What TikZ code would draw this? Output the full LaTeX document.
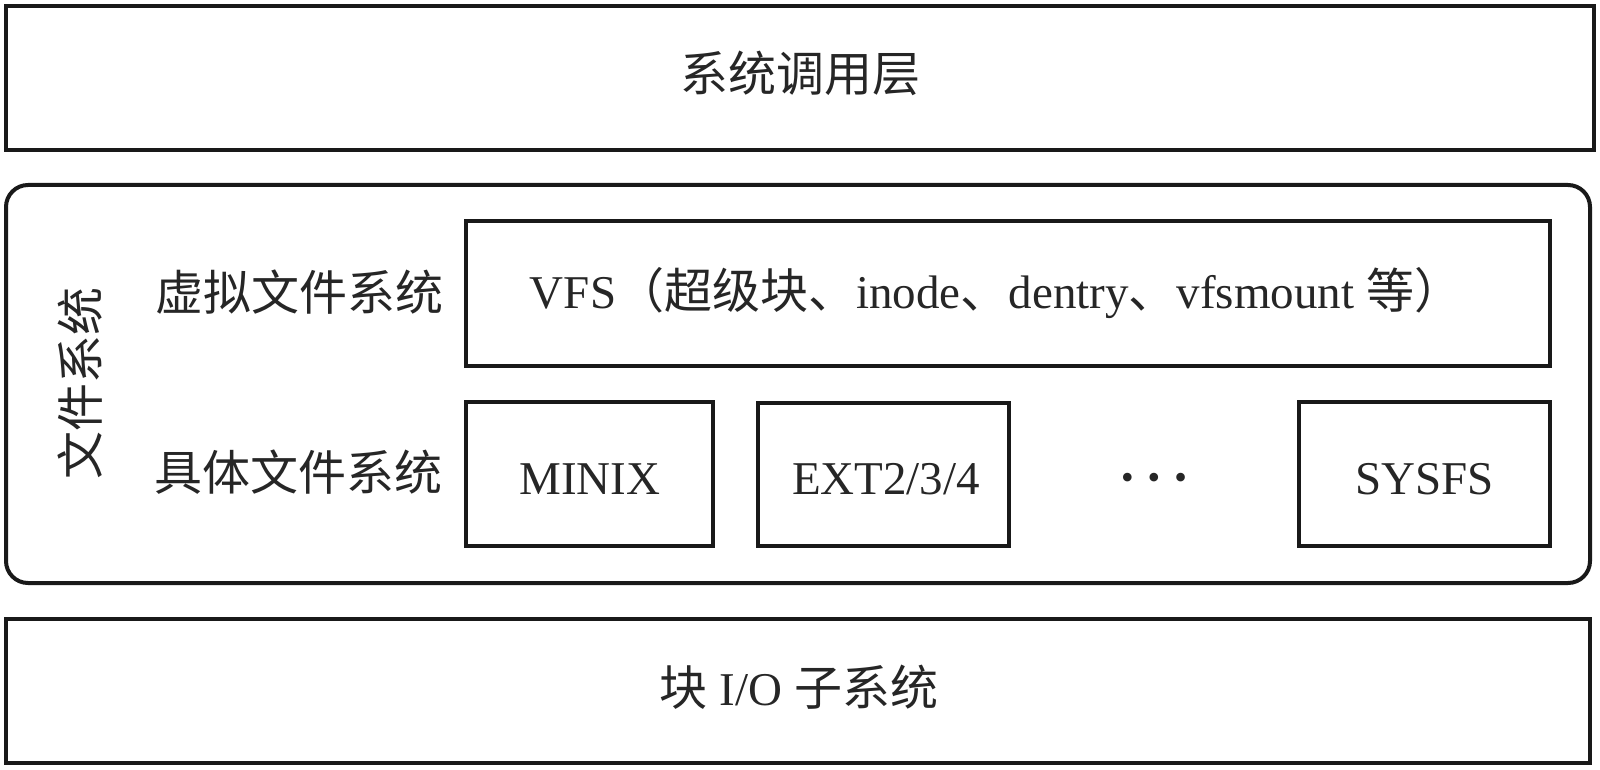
\documentclass[tikz,border=0pt]{standalone}
\usepackage{fontspec}
\setmainfont{Liberation Serif}
\newfontfamily\cjk{Noto Sans CJK SC}
\begin{document}
\begin{tikzpicture}[x=1pt,y=-1pt,
  box/.style={draw=black!90,line width=4pt,fill=white},
  txt/.style={inner sep=0pt,text=black!85,font=\fontsize{47}{50}\selectfont},
  cjktxt/.style={txt,font=\fontsize{48}{50}\selectfont\cjk}]
\useasboundingbox (0,0) rectangle (1600,770);
% outer layers
\draw[box] (6,6) rectangle (1594,150);
\node[cjktxt] (sys) at (800,73) {系统调用层};
\draw[box,rounded corners=22pt] (6,185) rectangle (1590,583);
\draw[box] (6,619) rectangle (1590,763);
\node[txt] (blk) at (799,687) {{\cjk\fontsize{48}{50}\selectfont 块} I/O {\cjk\fontsize{48}{50}\selectfont 子系统}};
% file system side label
\node[cjktxt,rotate=90] (fs) at (80,383) {文件系统};
\node[cjktxt] (vfsl) at (299,292) {虚拟文件系统};
\node[cjktxt] (cfsl) at (298,472) {具体文件系统};
% VFS
\draw[box] (466,221) rectangle (1550,366);
\node[txt] (vfs) at (996,293) {VFS{\cjk\fontsize{48}{50}\selectfont（超级块、}inode{\cjk\fontsize{48}{50}\selectfont 、}dentry{\cjk\fontsize{48}{50}\selectfont 、}vfsmount {\cjk\fontsize{48}{50}\selectfont 等）}};
% concrete file systems
\draw[box] (466,402) rectangle (713,546);
\node[txt,anchor=base] (minix) at (590,494) {MINIX};
\draw[box] (758,403) rectangle (1009,546);
\node[txt,anchor=base] (ext) at (886,494) {EXT2/3/4};
\node[txt,font=\fontsize{36}{36}\selectfont] (dots) at (1154,481) {•\hspace{14pt}•\hspace{14pt}•};
\draw[box] (1299,402) rectangle (1550,546);
\node[txt,anchor=base] (sysfs) at (1424.5,494) {SYSFS};
\end{tikzpicture}
\end{document}
